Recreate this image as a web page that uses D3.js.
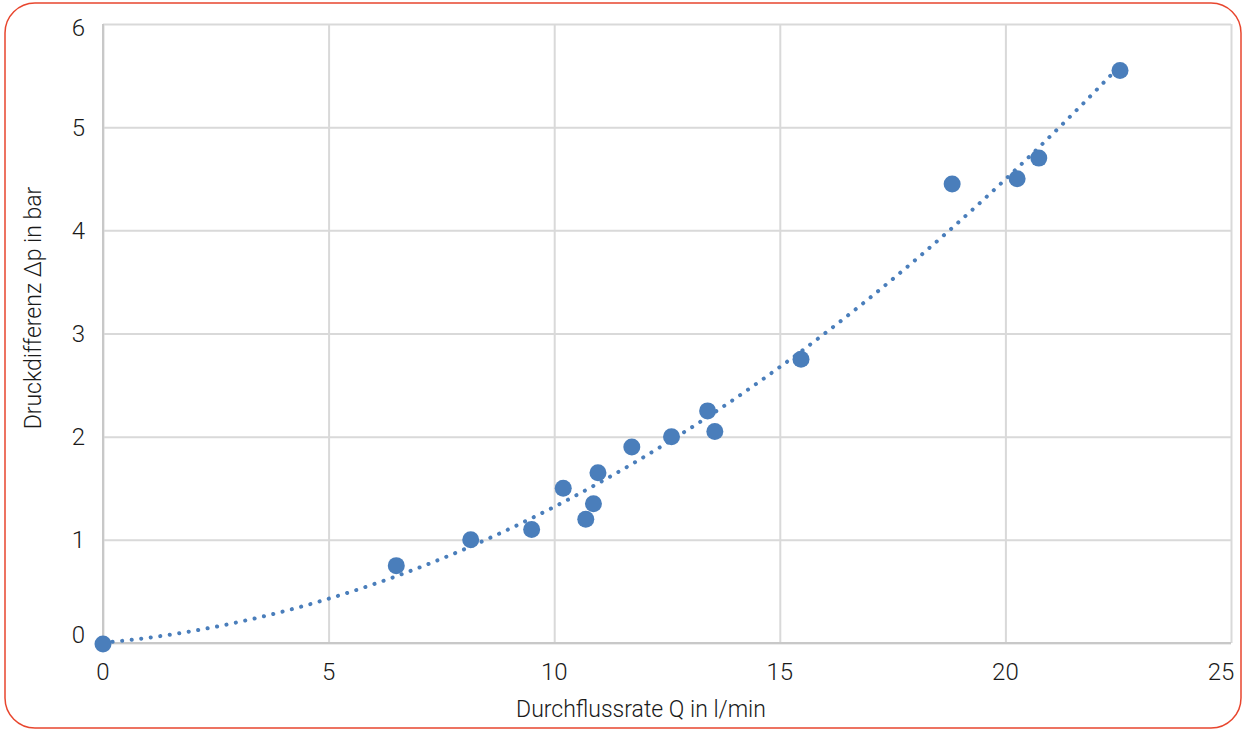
<!DOCTYPE html>
<html>
<head>
<meta charset="utf-8">
<script src="https://cdn.jsdelivr.net/npm/d3@7"></script>
<style>
    body { margin: 0; background: #fff; }
    text { font-family: "Helvetica Neue", Roboto, "Liberation Sans", sans-serif; font-weight: 300; fill: #1a1a1a; }
    .grid line { stroke: #d9d9d9; stroke-width: 2; }
    .grid .domain { display: none; }
</style>
</head>
<body>
<script>
    //measured values (Q in l/min, dp in bar)
    var flowRate = [0, 6.5, 8.15, 9.5, 10.2, 10.7, 10.87, 10.97, 11.72, 12.6, 13.4, 13.56, 15.47, 18.82, 20.26, 20.74, 22.54];
    var pressureDiff = [-0.01, 0.75, 1.0, 1.1, 1.5, 1.2, 1.35, 1.65, 1.9, 2.0, 2.25, 2.05, 2.75, 4.45, 4.5, 4.7, 5.55];
    var xTicks = [0, 5, 10, 15, 20, 25];
    var yTicks = [0, 1, 2, 3, 4, 5, 6];

(function(){
    var width = 1246, height = 731;
    var plotLeft = 103, plotRight = 1231, plotTop = 24, plotBottom = 643;

    var svg = d3.select("body").append("svg")
        .attr("width", width)
        .attr("height", height);

    //rounded frame around the chart
    svg.append("rect")
        .attr("x", 5).attr("y", 3)
        .attr("width", 1236).attr("height", 725)
        .attr("rx", 30).attr("ry", 30)
        .attr("fill", "none")
        .attr("stroke", "#e8462e")
        .attr("stroke-width", 1.5);

    var x = d3.scaleLinear().domain([0, 25]).range([plotLeft, plotRight]);
    var y = d3.scaleLinear().domain([0, 6]).range([plotBottom, plotTop]);

    //gridlines
    svg.append("g")
        .attr("class", "grid")
        .attr("transform", "translate(0," + plotBottom + ")")
        .call(d3.axisBottom(x).tickValues(xTicks).tickSize(-(plotBottom - plotTop)).tickFormat(""));
    svg.append("g")
        .attr("class", "grid")
        .attr("transform", "translate(" + plotLeft + ",0)")
        .call(d3.axisLeft(y).tickValues(yTicks).tickSize(-(plotRight - plotLeft)).tickFormat(""));

    //axis lines a bit darker
    svg.append("line").attr("x1", plotLeft).attr("x2", plotLeft).attr("y1", plotTop).attr("y2", plotBottom)
        .attr("stroke", "#c8c8c8").attr("stroke-width", 2);
    svg.append("line").attr("x1", plotLeft).attr("x2", plotRight).attr("y1", plotBottom).attr("y2", plotBottom)
        .attr("stroke", "#c8c8c8").attr("stroke-width", 2);

    //tick labels (0 nudged up, 6 nudged down as in the original)
    svg.selectAll(".ylab")
        .data(yTicks).enter().append("text")
        .attr("class", "ylab")
        .attr("x", 85)
        .attr("y", function(d){ return y(d) + (d == 0 ? -9 : d == 6 ? 3.5 : 0); })
        .attr("dy", "0.36em")
        .attr("text-anchor", "end")
        .style("font-size", "24px")
        .text(function(d){ return d; });

    svg.selectAll(".xlab")
        .data(xTicks).enter().append("text")
        .attr("class", "xlab")
        .attr("x", function(d){ return d == 25 ? x(d) - 10 : x(d); })
        .attr("y", 671)
        .attr("dy", "0.36em")
        .attr("text-anchor", "middle")
        .style("font-size", "24px")
        .text(function(d){ return d; });

    //axis titles
    svg.append("text")
        .attr("x", 641).attr("y", 709)
        .attr("dy", "0.36em")
        .attr("text-anchor", "middle")
        .style("font-size", "23px")
        .text("Durchflussrate Q in l/min");
    svg.append("text")
        .attr("transform", "translate(33,308) rotate(-90)")
        .attr("dy", "0.36em")
        .attr("text-anchor", "middle")
        .style("font-size", "23px")
        .text("Druckdifferenz \u0394p in bar");

    //quadratic least squares trendline from the measured values
    function polyFit(xs, ys){
        var n = xs.length, s = [0,0,0,0,0], t = [0,0,0];
        for (var i = 0; i < n; i++){
            var p = 1;
            for (var k = 0; k < 5; k++){ s[k] += p; if (k < 3) t[k] += p * ys[i]; p *= xs[i]; }
        }
        var A = [[s[0], s[1], s[2], t[0]], [s[1], s[2], s[3], t[1]], [s[2], s[3], s[4], t[2]]];
        for (var c = 0; c < 3; c++){
            for (var r = c + 1; r < 3; r++){
                var f = A[r][c] / A[c][c];
                for (var j = c; j < 4; j++) A[r][j] -= f * A[c][j];
            }
        }
        var coef = [0,0,0];
        for (var r2 = 2; r2 >= 0; r2--){
            var sum = A[r2][3];
            for (var j2 = r2 + 1; j2 < 3; j2++) sum -= A[r2][j2] * coef[j2];
            coef[r2] = sum / A[r2][r2];
        }
        return coef;
    }
    var coef = polyFit(flowRate, pressureDiff);
    var trend = d3.range(0, 200).map(function(i){
        var q = d3.max(flowRate) * i / 199;
        return [q, coef[0] + coef[1] * q + coef[2] * q * q];
    });
    svg.append("path")
        .datum(trend)
        .attr("d", d3.line().x(function(d){ return x(d[0]); }).y(function(d){ return y(d[1]); }))
        .attr("fill", "none")
        .attr("stroke", "#4a7ebb")
        .attr("stroke-width", 4)
        .attr("stroke-linecap", "round")
        .attr("stroke-dasharray", "0.1 9.5");

    //points
    svg.selectAll(".dot")
        .data(flowRate).enter().append("circle")
        .attr("class", "dot")
        .attr("cx", function(d){ return x(d); })
        .attr("cy", function(d, i){ return y(pressureDiff[i]); })
        .attr("r", 8.5)
        .attr("fill", "#4a7ebb");
})();
</script>
</body>
</html>
